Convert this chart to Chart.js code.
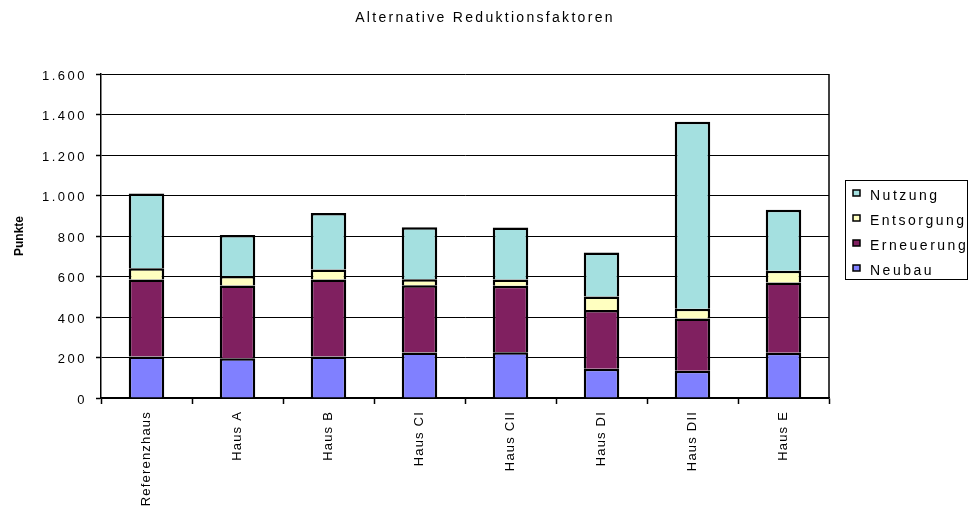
<!DOCTYPE html>
<html>
<head>
<meta charset="utf-8">
<script src="https://cdn.jsdelivr.net/npm/chart.js@4/dist/chart.umd.min.js"></script>
<style>
  html, body { margin: 0; padding: 0; background: #fff; }
  #wrap { width: 970px; height: 509px; }
</style>
</head>
<body>
<div id="wrap"><canvas id="chart"></canvas></div>
<script>
// Punkte je Haus, aufgeteilt nach Lebenszyklusphase
const haeuser = ['Referenzhaus', 'Haus A', 'Haus B', 'Haus CI', 'Haus CII', 'Haus DI', 'Haus DII', 'Haus E'];
const neubau = [205, 196, 205, 225, 226, 144, 134, 223];
const erneuerung = [380, 360, 380, 332, 328, 290, 258, 347];
const entsorgung = [56, 47, 50, 30, 31, 67, 49, 59];
const nutzung = [369, 202, 278, 256, 257, 218, 923, 301];

const FONT = '"Liberation Sans", Arial, Helvetica, sans-serif';

function punkteFormat(v) {
    return String(v).replace(/\B(?=(\d{3})+(?!\d))/g, '.');
}

// Sperrsatz fuer Titel und Achsenbeschriftung (Canvas letterSpacing)
const spacing = {
    id: 'spacing',
    afterUpdate(chart) {
        const wrap = (scale, fn, sp) => {
            if (!scale || scale['_sp_' + fn]) return;
            const orig = scale[fn];
            scale[fn] = function (...args) {
                const c = this.ctx;
                const prev = c.letterSpacing;
                c.letterSpacing = sp;
                orig.apply(this, args);
                c.letterSpacing = prev;
            };
            scale['_sp_' + fn] = true;
        };
        wrap(chart.scales.x, 'drawLabels', '1.2px');
        wrap(chart.scales.y, 'drawLabels', '2.5px');
        wrap(chart.scales.y, 'drawTitle', '0px');
    },
    beforeDraw(chart) {
        chart.ctx.letterSpacing = '2.3px';
    }
};

// Rahmen rechts am Diagramm und Legende im Kasten
const frameLegend = {
    id: 'frameLegend',
    afterDraw(chart) {
        const { ctx, chartArea } = chart;
        ctx.save();
        ctx.strokeStyle = '#000';
        ctx.lineWidth = 1.5;
        ctx.beginPath();
        ctx.moveTo(chartArea.right, chartArea.top);
        ctx.lineTo(chartArea.right, chartArea.bottom);
        ctx.stroke();

        // Legende
        ctx.lineWidth = 1;
        ctx.strokeRect(845.5, 180.5, 122, 99);
        ctx.letterSpacing = '2.5px';
        ctx.font = '14px ' + FONT;
        ctx.textBaseline = 'middle';
        ctx.textAlign = 'left';
        const items = chart.data.datasets.slice().reverse();
        items.forEach((ds, i) => {
            const y = 196 + i * 25;
            ctx.fillStyle = ds.backgroundColor;
            ctx.fillRect(853, y - 6, 7, 6);
            ctx.lineWidth = 1.5;
            ctx.strokeRect(853, y - 6, 7, 6);
            ctx.fillStyle = '#000';
            ctx.fillText(ds.label, 870, y);
        });
        ctx.restore();
    }
};

const ctx = document.getElementById('chart').getContext('2d');

new Chart(ctx, {
    type: 'bar',
    data: {
        labels: haeuser,
        datasets: [
            { label: 'Neubau', data: neubau, backgroundColor: '#8080FF' },
            { label: 'Erneuerung', data: erneuerung, backgroundColor: '#802060' },
            { label: 'Entsorgung', data: entsorgung, backgroundColor: '#FFFFC0' },
            { label: 'Nutzung', data: nutzung, backgroundColor: '#A4E0E0' }
        ].map(ds => Object.assign(ds, {
            borderColor: '#000',
            borderWidth: 2.5,
            inflateAmount: 0,
            barPercentage: 0.39,
            categoryPercentage: 1
        }))
    },
    options: {
        responsive: true,
        maintainAspectRatio: false,
        animation: false,
        layout: { padding: 0 },
        plugins: {
            legend: { display: false },
            tooltip: { enabled: false },
            title: {
                display: true,
                text: 'Alternative Reduktionsfaktoren',
                color: '#000',
                font: { family: FONT, size: 14, weight: 'normal' },
                padding: { top: 9.6, bottom: 47.6 }
            }
        },
        scales: {
            x: {
                stacked: true,
                offset: true,
                grid: {
                    drawOnChartArea: false,
                    drawTicks: true,
                    tickLength: 6,
                    tickColor: '#000',
                    tickWidth: 1.5
                },
                border: { display: true, color: '#000', width: 1.5 },
                ticks: {
                    color: '#000',
                    font: { family: FONT, size: 13 },
                    minRotation: 90,
                    maxRotation: 90,
                    padding: 7,
                    autoSkip: false
                },
                afterFit(scale) { scale.height = 111; }
            },
            y: {
                stacked: true,
                min: 0,
                max: 1600,
                grid: {
                    color: '#000',
                    lineWidth: 1,
                    drawTicks: true,
                    tickLength: 5,
                    tickColor: '#000',
                    tickWidth: 1.5
                },
                border: { display: true, color: '#000', width: 1.5 },
                ticks: {
                    stepSize: 200,
                    color: '#000',
                    font: { family: FONT, size: 13 },
                    padding: 9,
                    labelOffset: 2,
                    callback: v => punkteFormat(v)
                },
                title: {
                    display: true,
                    text: 'Punkte',
                    color: '#000',
                    font: { family: FONT, size: 12, weight: 'bold' },
                    padding: { top: 12, bottom: 0 }
                },
                afterFit(scale) { scale.width = 101; }
            },
            // leerer Bereich rechts fuer die Legende
            rand: {
                position: 'right',
                display: true,
                grid: { display: false },
                border: { display: false },
                ticks: { display: false },
                afterFit(scale) { scale.width = 141; }
            }
        }
    },
    plugins: [spacing, frameLegend]
});
</script>
</body>
</html>
